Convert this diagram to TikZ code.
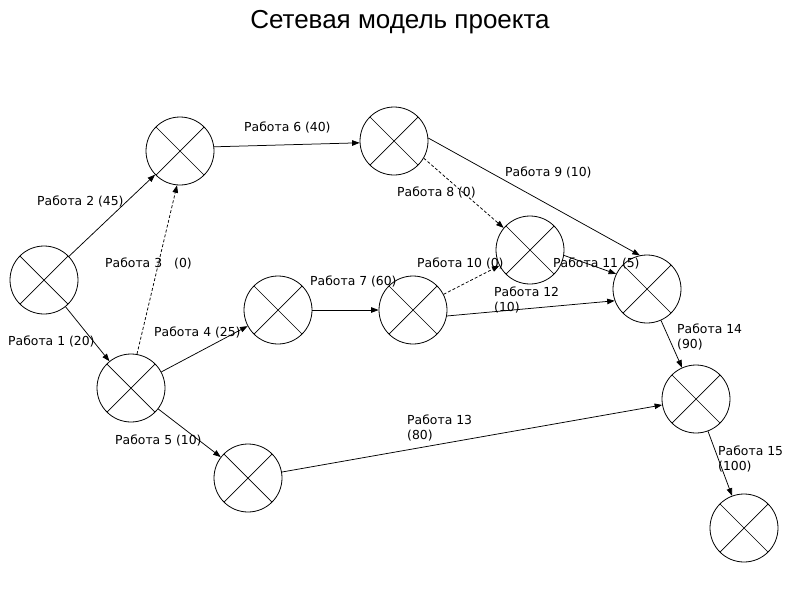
\documentclass[tikz,border=0pt]{standalone}
\usepackage{fontspec}
\setmainfont{DejaVu Sans}
\newfontfamily\titlefont{Liberation Sans}
\usetikzlibrary{arrows.meta}
\begin{document}
\begin{tikzpicture}[x=1pt,y=-1pt,
 ev/.style={circle,draw,line width=0.8pt,minimum size=68pt,inner sep=0pt,
   path picture={\draw[line width=0.7pt] (path picture bounding box.north west)--(path picture bounding box.south east)
     (path picture bounding box.north east)--(path picture bounding box.south west);}},
 work/.style={draw,line width=0.75pt,-{Triangle[length=7.5pt,width=5.5pt]}},
 dummy/.style={work,dash pattern=on 3pt off 2pt},
 lbl/.style={font=\fontsize{12.4}{15}\selectfont,inner sep=0pt,anchor=west,align=left}]
\useasboundingbox[fill=white] (0,0) rectangle (800,600);
\node[font=\titlefont\fontsize{26}{30}\selectfont] (title) at (400,22) {Сетевая модель проекта};
% events
\node[ev] (n1) at (44,280) {};
\node[ev] (n2) at (180,151) {};
\node[ev] (n3) at (394,141) {};
\node[ev] (n4) at (530,250) {};
\node[ev] (n5) at (647,289) {};
\node[ev] (n6) at (278,310) {};
\node[ev] (n7) at (413,310) {};
\node[ev] (n8) at (131,388) {};
\node[ev] (n9) at (248,478) {};
\node[ev] (n10) at (696,399) {};
\node[ev] (n11) at (744,528) {};
% works
\draw[work] (n1) -- (n2);
\draw[work] (n1) -- (n8);
\draw[dummy] (n8.80) -- (n2.265);
\draw[work] (n2.7) -- (n3.183);
\draw[dummy] (n3.-30) -- (n4.140);
\draw[work] (n3.5) -- (n5.102);
\draw[work] (n8) -- (n6);
\draw[work] (n6) -- (n7);
\draw[dummy] (n7) -- (n4);
\draw[work] (n7.-10) -- (n5.200);
\draw[work] (n4.-9) -- (n5.154);
\draw[work] (n8) -- (n9);
\draw[work] (n9) -- (n10);
\draw[work] (n5) -- (n10);
\draw[work] (n10) -- (n11);
% labels
\node[lbl] (l2) at (37,201) {Работа 2 (45)};
\node[lbl] (l3) at (105,263) {Работа 3\hspace{12pt}(0)};
\node[lbl] (l6) at (244,127) {Работа 6 (40)};
\node[lbl] (l1) at (8,341) {Работа 1 (20)};
\node[lbl] (l4) at (154,332) {Работа 4 (25)};
\node[lbl] (l5) at (115,440) {Работа 5 (10)};
\node[lbl] (l7) at (310,281) {Работа 7 (60)};
\node[lbl] (l8) at (397,192) {Работа 8 (0)};
\node[lbl] (l9) at (505,172) {Работа 9 (10)};
\node[lbl] (l10) at (417,263) {Работа 10 (0)};
\node[lbl] (l11) at (553,263) {Работа 11 (5)};
\node[lbl] (l12) at (494,299.5) {Работа 12\\(10)};
\node[lbl] (l13) at (407,428) {Работа 13\\(80)};
\node[lbl] (l14) at (677,337) {Работа 14\\(90)};
\node[lbl] (l15) at (718,458.5) {Работа 15\\(100)};
\end{tikzpicture}
\end{document}
